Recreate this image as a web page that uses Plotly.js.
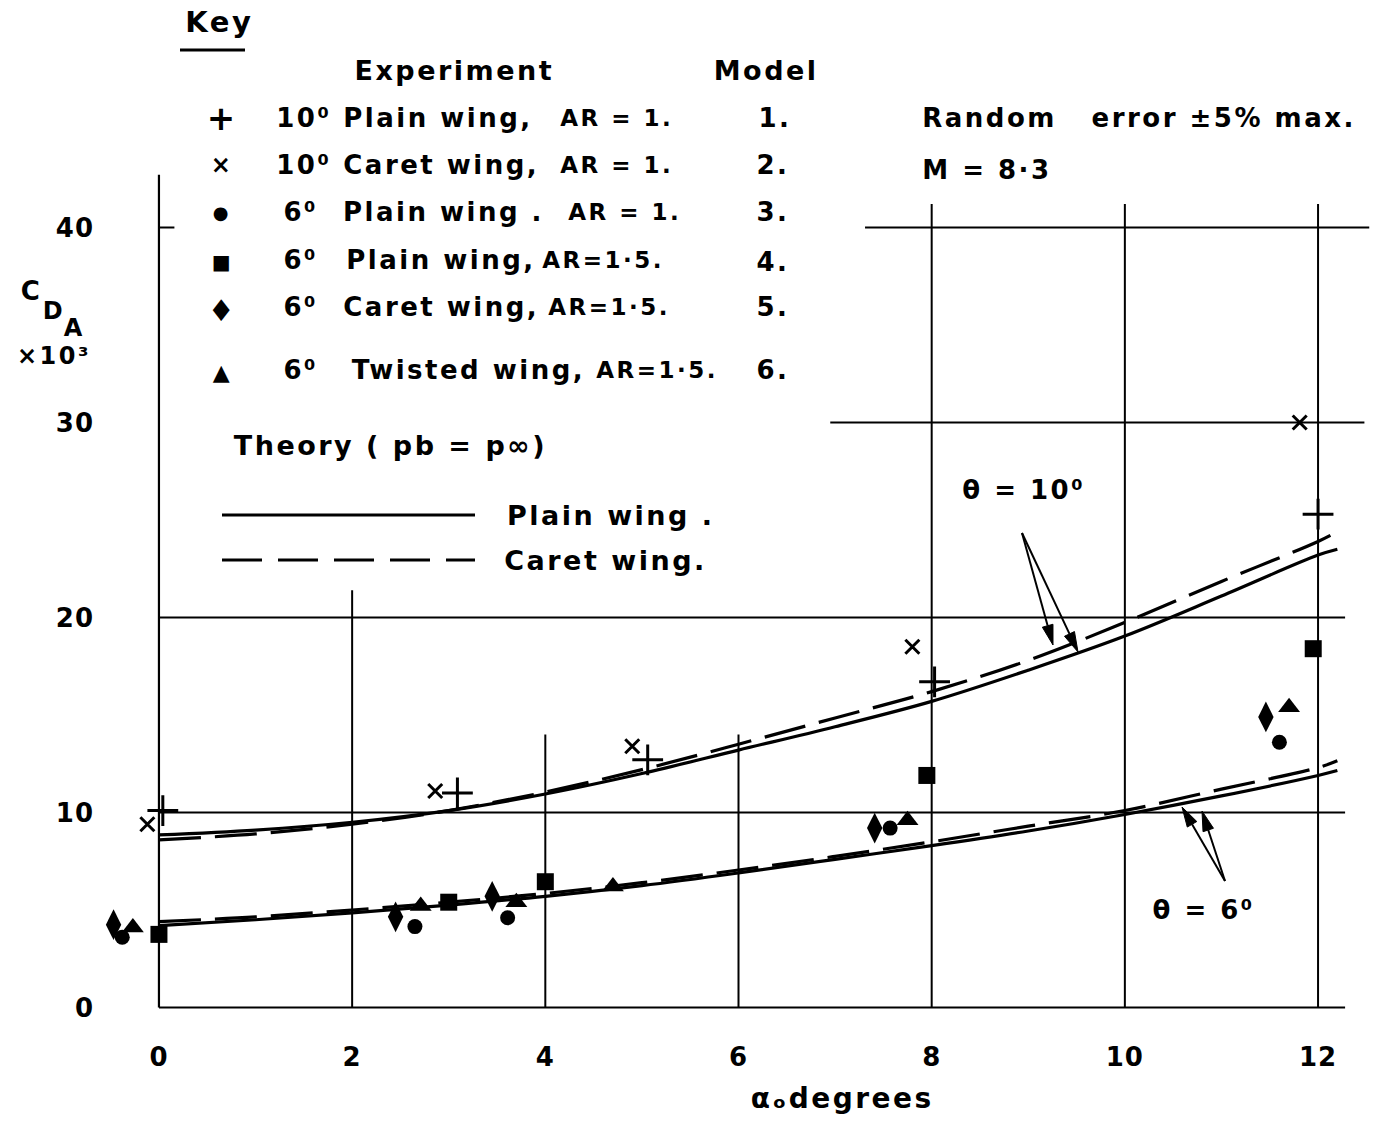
<!DOCTYPE html>
<html>
<head>
<meta charset="utf-8">
<script src="https://cdn.plot.ly/plotly-3.0.1.min.js"></script>
<style>
html,body{margin:0;padding:0;background:#fff;}
#chart{width:1395px;height:1122px;}
#chart .annotation-text{letter-spacing:2.5px;}
#chart .xtick text,#chart .ytick text{letter-spacing:1px;}
</style>
</head>
<body>
<div id="chart"></div>
<script>
// ---------- data ----------
const theoryAlpha = [0, 1, 2, 3, 4, 5, 6, 7, 8, 9, 10, 11, 12, 12.2];
const theory10Plain = [8.85, 9.1, 9.5, 10.1, 10.95, 12.0, 13.2, 14.4, 15.7, 17.3, 19.05, 21.1, 23.2, 23.5];
const theory10Caret = [8.6, 8.9, 9.4, 10.1, 11.05, 12.2, 13.5, 14.85, 16.2, 17.8, 19.75, 21.85, 23.9, 24.4];
const theory6Plain = [4.2, 4.5, 4.85, 5.25, 5.7, 6.25, 6.9, 7.6, 8.3, 9.05, 9.9, 10.85, 11.9, 12.15];
const theory6Caret = [4.4, 4.65, 5.0, 5.4, 5.85, 6.4, 7.05, 7.75, 8.5, 9.3, 10.1, 11.2, 12.3, 12.65];

const m1Alpha = [0.04, 3.09, 5.06, 8.03, 12.0];
const m1CD = [10.1, 11.0, 12.7, 16.7, 25.3];
const m2Alpha = [-0.12, 2.86, 4.9, 7.8, 11.81];
const m2CD = [9.4, 11.1, 13.4, 18.5, 30.0];
const m3Alpha = [-0.38, 2.65, 3.61, 7.57, 11.6];
const m3CD = [3.6, 4.15, 4.6, 9.2, 13.6];
const m4Alpha = [0.0, 3.0, 4.0, 7.95, 11.95];
const m4CD = [3.75, 5.4, 6.45, 11.9, 18.4];
const m5Alpha = [-0.47, 2.45, 3.45, 7.41, 11.46];
const m5CD = [4.25, 4.65, 5.7, 9.2, 14.9];
const m6Alpha = [-0.27, 2.71, 3.7, 4.7, 7.75, 11.7];
const m6CD = [4.1, 5.2, 5.4, 6.2, 9.6, 15.4];

const xTicks = [0, 2, 4, 6, 8, 10, 12];
const yTicks = [0, 10, 20, 30, 40];

// ---------- layout helpers ----------
const L = 101, R = 19, T = 130, B = 95, WW = 1395, HH = 1122;
const PW = WW - L - R, PH = HH - T - B;
const px = v => (v - L) / PW;
const py = v => (HH - B - v) / PH;
const FONT = 'DejaVu Sans';
const blk = '#000';
const LS = 2.5; // css letter spacing of annotation text

function txt(text, x, y, size, anchor) {
  const a = anchor || 'left';
  // plotly centres the text in a box measured without letter spacing; compensate for left anchor
  const shift = a === 'left' ? (Array.from(text).length * LS) / 2 : 0;
  return {text: text, xref: 'paper', yref: 'paper', x: px(x + shift), y: py(y),
    xanchor: a, yanchor: 'middle', showarrow: false,
    font: {family: FONT, size: size || 26, color: blk, weight: 'bold'}};
}

const mk = (x, y, sym, size, lw) => ({
  x: x, y: y, type: 'scatter', mode: 'markers', cliponaxis: false,
  marker: {symbol: sym, size: size, color: blk, line: {color: blk, width: lw || 0}},
  showlegend: false, hoverinfo: 'x+y'
});
const ln = (x, y, dash) => ({
  x: x, y: y, type: 'scatter', mode: 'lines', line: {color: blk, width: 3.2, dash: dash, shape: 'spline'},
  showlegend: false, hoverinfo: 'skip'
});

const traces = [
  ln(theoryAlpha, theory10Plain, 'solid'),
  ln(theoryAlpha, theory10Caret, '42px,14px'),
  ln(theoryAlpha, theory6Plain, 'solid'),
  ln(theoryAlpha, theory6Caret, '42px,14px'),
  mk(m1Alpha, m1CD, 'cross-thin', 22, 3),
  mk(m2Alpha, m2CD, 'x-thin', 14, 3),
  mk(m3Alpha, m3CD, 'circle', 15),
  mk(m4Alpha, m4CD, 'square', 17),
  mk(m5Alpha, m5CD, 'diamond-tall', 22),
  mk(m6Alpha, m6CD, 'triangle-up', 19)
];

const seg = (x0, y0, x1, y1, w) => ({type: 'line', xref: 'x', yref: 'y', x0: x0, y0: y0, x1: x1, y1: y1,
  line: {color: blk, width: w || 2}});
const pseg = (x0, y0, x1, y1, dash, w) => ({type: 'line', xref: 'paper', yref: 'paper',
  x0: px(x0), y0: py(y0), x1: px(x1), y1: py(y1), line: {color: blk, width: w || 3, dash: dash || 'solid'}});
// arrow drawn as a line plus a filled head (pixel positions of tail and head)
function arrowShapes(tx, ty, hx, hy) {
  const dx = hx - tx, dy = hy - ty, len = Math.hypot(dx, dy);
  const ux = dx / len, uy = dy / len, hl = 20, hw = 5.5;
  const bx = hx - ux * hl, by = hy - uy * hl;
  const p1 = [bx - uy * hw, by + ux * hw], p2 = [bx + uy * hw, by - ux * hw];
  const path = 'M' + px(hx) + ',' + py(hy) + ' L' + px(p1[0]) + ',' + py(p1[1]) + ' L' + px(p2[0]) + ',' + py(p2[1]) + ' Z';
  return [pseg(tx, ty, bx, by, 'solid', 2),
    {type: 'path', xref: 'paper', yref: 'paper', path: path, fillcolor: blk, line: {color: blk, width: 1}}];
}

const shapes = [
  seg(0, 0, 12.28, 0, 2.2), seg(0, 0, 0, 42.7, 2.2), seg(0, 40, 0.16, 40, 2),
  seg(0, 10, 12.28, 10), seg(0, 20, 12.28, 20),
  seg(6.95, 30, 12.48, 30), seg(7.31, 40, 12.53, 40),
  seg(2, 0, 2, 21.4), seg(4, 0, 4, 14.0), seg(6, 0, 6, 14.0),
  seg(8, 0, 8, 41.2), seg(10, 0, 10, 41.2), seg(12, 0, 12, 41.2),
  pseg(180, 50, 245, 50), pseg(222, 515, 475, 515), pseg(222, 560, 475, 560, '40px,16px')
].concat(arrowShapes(1022, 533, 1053, 645), arrowShapes(1022, 533, 1078, 652),
         arrowShapes(1225, 881, 1182, 807), arrowShapes(1225, 881, 1202, 811));

const annotations = [
  txt('Key', 183, 22, 29),
  txt('Experiment', 352, 70, 27), txt('Model', 712, 70, 27),
  txt('+', 222, 118, 34, 'center'), txt('×', 222, 165, 24, 'center'), txt('●', 222, 213, 18, 'center'),
  txt('■', 222, 262, 20, 'center'), txt('♦', 222, 310, 30, 'center'), txt('▲', 222, 372, 22, 'center'),
  txt('10⁰', 274, 118), txt('Plain wing,', 341, 118), txt('AR = 1.', 558, 118, 23), txt('1.', 756, 118),
  txt('10⁰', 274, 165), txt('Caret wing,', 341, 165), txt('AR = 1.', 558, 165, 23), txt('2.', 754, 165),
  txt('6⁰', 281, 212), txt('Plain wing .', 341, 212), txt('AR = 1.', 566, 212, 23), txt('3.', 754, 212),
  txt('6⁰', 281, 260), txt('Plain wing,', 344, 260), txt('AR=1·5.', 540, 260, 23), txt('4.', 754, 262),
  txt('6⁰', 281, 307), txt('Caret wing,', 341, 307), txt('AR=1·5.', 546, 307, 23), txt('5.', 754, 307),
  txt('6⁰', 281, 370), txt('Twisted wing,', 350, 370), txt('AR=1·5.', 594, 370, 23), txt('6.', 754, 370),
  txt('Random\u00a0\u00a0 error ±5% max.', 920, 118, 26), txt('M = 8·3', 920, 170, 26),
  txt('Theory ( pb = p∞)', 232, 445, 27),
  txt('Plain wing .', 505, 515, 27), txt('Caret wing.', 502, 560, 27),
  txt('θ = 10⁰', 960, 490, 26), txt('θ = 6⁰', 1150, 910, 26),
  txt('C', 19, 291, 26), txt('D', 41, 311, 24), txt('A', 62, 328, 24),
  txt('×10³', 15, 356, 24),
  txt('αₒdegrees', 842, 1098, 28, 'center')
];

const layout = {
  width: WW, height: HH,
  margin: {l: L, r: R, t: T, b: B},
  paper_bgcolor: '#fff', plot_bgcolor: '#fff',
  showlegend: false,
  xaxis: {range: [-0.6, 12.6], tickvals: xTicks, ticktext: xTicks.map(String), showgrid: false, zeroline: false,
    showline: false, ticks: '', ticklabelstandoff: 12,
    tickfont: {family: FONT, size: 26, color: blk, weight: 'bold'}},
  yaxis: {range: [-1, 45], tickvals: yTicks, ticktext: yTicks.map(String), showgrid: false, zeroline: false,
    showline: false, ticks: '', ticklabelstandoff: 6,
    tickfont: {family: FONT, size: 26, color: blk, weight: 'bold'}},
  shapes: shapes,
  annotations: annotations
};

Plotly.newPlot('chart', traces, layout, {displayModeBar: false, staticPlot: true});
</script>
</body>
</html>
